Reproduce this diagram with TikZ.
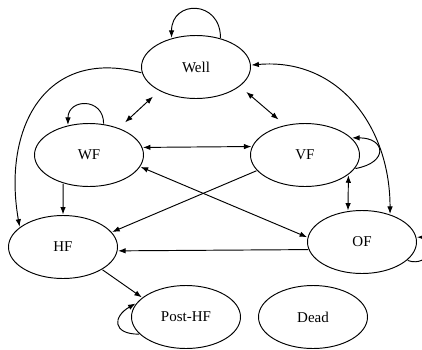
\documentclass[tikz,border=0pt]{standalone}
\usepackage{fontspec}
\setmainfont{Liberation Serif}
\usetikzlibrary{shapes.geometric,arrows.meta}

\begin{document}
\begin{tikzpicture}[x=1pt,y=-1pt,line width=0.95pt,>={Latex[length=7.5pt,width=5.5pt]},
    stt/.style={draw, ellipse, minimum width=109pt, minimum height=63pt, inner sep=0pt, outer sep=1pt, font=\fontsize{15}{18}\selectfont},
    gap/.style={shorten >=8pt, shorten <=8pt}]
        \useasboundingbox (0,0) rectangle (422,349);

        \node [stt] (well) at (196,67) {Well};
        \node [stt] (wf) at (89,155) {WF};
        \node [stt] (vf) at (305,155) {VF};
        \node [stt] (hf) at (63,247) {HF};
        \node [stt] (of) at (362,242) {OF};
        \node [stt] (posthf) at (186,317) {Post-HF};
        \node [stt] (dead) at (313,317) {Dead};

        \draw [->] (well.50) to [out=90, in=90, looseness=2] (well.130);
        \draw [->] (wf.65) to [out=90, in=90, looseness=1.9] (wf.125);
        \draw [->] (vf.345) to [out=10, in=0, looseness=2.8] (vf.20);
        \draw [->] (of.338) to [out=-20, in=0, looseness=2.4] (of.5);
        \draw [->] (posthf.200) to [out=180, in=210, looseness=2.2] (posthf.165);

        \draw [<->, gap] (well.213) -- (wf.42);
        \draw [<->, gap] (well.336) -- (vf.124);
        \draw [<->] (wf.8) -- (vf.171);
        \draw [<->] (wf.347) -- (of.175);
        \draw [<->] (vf.335) -- (of.114);
        \draw [->] (vf.198) -- (hf.17);
        \draw [->] (wf.228) -- (hf.north);
        \draw [->] (of.188) -- (hf.356);
        \draw [->] (hf.330) -- (posthf.156);

        \draw [<->] (well.2) to [out=5, in=90, looseness=1.1] (of.45);
        \draw [->] (well.186) to [out=165, in=100, looseness=1.3] (hf.155);
      \end{tikzpicture}
\end{document}
